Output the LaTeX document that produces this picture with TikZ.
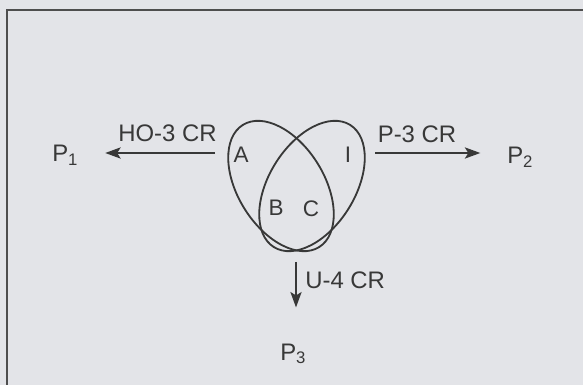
\documentclass[tikz,border=0pt]{standalone}
\usepackage{fontspec}
\setmainfont{Liberation Sans}
\usepackage{xcolor}
\definecolor{PaperGray}{HTML}{E3E4E8}
\definecolor{InkGray}{HTML}{383838}
\definecolor{FrameGray}{HTML}{4E4E4E}
\usetikzlibrary{arrows.meta,positioning}

\begin{document}
\begin{tikzpicture}[
  x=0.025cm,y=-0.025cm,
  lbl/.style={inner sep=0pt,text=InkGray,font=\fontsize{17}{19}\selectfont},
  prod/.style={inner sep=0pt,text=InkGray,font=\fontsize{17}{19}\selectfont,anchor=base west},
  setlbl/.style={inner sep=0pt,text=InkGray,font=\fontsize{16}{18}\selectfont},
  venn/.style={draw=InkGray,line width=1.3pt},
  arr/.style={-{Stealth[length=11pt,width=8pt,inset=2.5pt]},line width=1.1pt,InkGray}
]
  % page and frame
  \fill[PaperGray] (0,0) rectangle (583,385);
  \useasboundingbox (0,0) rectangle (583,385);
  \draw[FrameGray,line width=1.5pt] (7,385) -- (7,10) -- (583,10);
  % the two sets
  \draw[venn,rotate around={-58:(281,186)}] (281,186) ellipse [x radius=72,y radius=43];
  \draw[venn,rotate around={58:(312,186)}] (312,186) ellipse [x radius=72,y radius=43];
  \node[setlbl] (setA) at (241,155) {A};
  \node[setlbl] (setI) at (348,155) {I};
  \node[setlbl] (setB) at (276,208) {B};
  \node[setlbl] (setC) at (311,209) {C};
  % products
  \node[prod] (p1) at (52,162) {P\textsubscript{1}};
  \node[prod] (p2) at (507,164) {P\textsubscript{2}};
  \node[prod] (p3) at (280,360) {P\textsubscript{3}};
  % arrows out of the sets
  \coordinate (hoS) at (215,153);
  \coordinate (pS) at (375,153);
  \coordinate (uS) at (296,262);
  \draw[arr,shorten >=19pt] (hoS) -- (hoS -| p1.east);
  \draw[arr,shorten >=19pt] (pS) -- (pS -| p2.west);
  \draw[arr,shorten >=25.5pt] (uS) -- (uS |- p3.north);
  \node[lbl,anchor=base] (hoLbl) at (167.5,142) {HO-3 CR};
  \node[lbl,anchor=base] (pLbl) at (417,143) {P-3 CR};
  \node[lbl,anchor=base west] (uLbl) at (305,288) {U-4 CR};
\end{tikzpicture}
\end{document}
